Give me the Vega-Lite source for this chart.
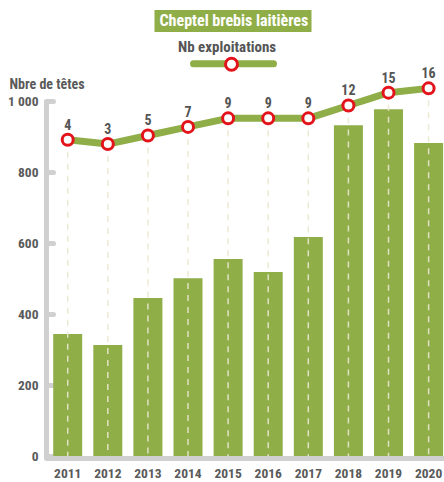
{
  "$schema": "https://vega.github.io/schema/vega-lite/v6.json",
  "width": 398,
  "height": 355,
  "autosize": {"type": "none"},
  "padding": {"left": 46, "top": 101, "right": 0, "bottom": 26},
  "background": "white",
  "config": {
    "view": {"stroke": null},
    "font": "Roboto Condensed, Noto Sans Condensed, DejaVu Sans Condensed, sans-serif"
  },
  "data": {
    "values": [
      {"annee": "2011", "brebis": 344, "exploitations": 4},
      {"annee": "2012", "brebis": 313, "exploitations": 3},
      {"annee": "2013", "brebis": 445, "exploitations": 5},
      {"annee": "2014", "brebis": 501, "exploitations": 7},
      {"annee": "2015", "brebis": 555, "exploitations": 9},
      {"annee": "2016", "brebis": 518, "exploitations": 9},
      {"annee": "2017", "brebis": 617, "exploitations": 9},
      {"annee": "2018", "brebis": 932, "exploitations": 12},
      {"annee": "2019", "brebis": 977, "exploitations": 15},
      {"annee": "2020", "brebis": 882, "exploitations": 16}
    ]
  },
  "encoding": {
    "x": {
      "field": "annee",
      "type": "ordinal",
      "scale": {"paddingInner": 0.277, "paddingOuter": 0.101, "align": 0.89},
      "axis": {
        "title": null,
        "labelAngle": 0,
        "ticks": false,
        "domainColor": "#d0d0d0",
        "domainWidth": 5,
        "domainCap": "round",
        "offset": 2,
        "labelPadding": 8,
        "labelFont": "Roboto Condensed, Noto Sans Condensed, DejaVu Sans Condensed, sans-serif",
        "labelFontSize": 13.5,
        "labelFontWeight": "bold",
        "labelColor": "#5a5a5a"
      }
    }
  },
  "layer": [
    {
      "mark": {"type": "bar"},
      "encoding": {
        "y": {
          "field": "brebis",
          "type": "quantitative",
          "scale": {"domain": [0, 1000], "nice": false},
          "axis": {
            "title": "Nbre de têtes",
            "titleAngle": 0,
            "titleAlign": "left",
            "titleBaseline": "middle",
            "titleX": -37,
            "titleY": -17,
            "titleFont": "Roboto Condensed, Noto Sans Condensed, DejaVu Sans Condensed, sans-serif",
            "titleFontSize": 14,
            "titleFontWeight": "bold",
            "titleColor": "#5a5a5a",
            "values": [0, 200, 400, 600, 800, 1000],
            "labelExpr": "replace(format(datum.value, ',d'), ',', ' ')",
            "grid": false,
            "domainColor": "#d0d0d0",
            "domainWidth": 5,
            "domainCap": "round",
            "tickColor": "#d0d0d0",
            "tickWidth": 5,
            "tickCap": "round",
            "tickSize": -7,
            "labelPadding": 15,
            "labelFont": "Roboto Condensed, Noto Sans Condensed, DejaVu Sans Condensed, sans-serif",
            "labelFontSize": 13.5,
            "labelFontWeight": "bold",
            "labelColor": "#5a5a5a"
          }
        },
        "fill": {
          "datum": "Cheptel brebis laitières",
          "type": "nominal",
          "scale": {"range": ["#8fae48"]},
          "legend": {
            "orient": "none",
            "legendX": 108.5,
            "legendY": -91,
            "zindex": 1,
            "title": null,
            "fillColor": "#8fae48",
            "padding": 3,
            "symbolSize": 0,
            "symbolOpacity": 0,
            "symbolStrokeWidth": 0,
            "labelOffset": -14,
            "labelFont": "Roboto Condensed, Noto Sans Condensed, DejaVu Sans Condensed, sans-serif",
            "labelFontSize": 16,
            "labelFontWeight": "bold",
            "labelColor": "white",
            "labelLimit": 300
          }
        }
      }
    },
    {
      "encoding": {
        "y": {
          "field": "exploitations",
          "type": "quantitative",
          "scale": {"domain": [-69.8, 13.05], "zero": false, "nice": false},
          "axis": null
        }
      },
      "layer": [
        {
          "mark": {"type": "rule", "color": "#ebe8cf", "strokeWidth": 1.5, "strokeDash": [6, 6], "opacity": 0.9},
          "encoding": {"y2": {"value": "height"}}
        },
        {
          "mark": {"type": "line", "strokeWidth": 7, "strokeJoin": "round", "strokeCap": "round"},
          "encoding": {
            "stroke": {
              "datum": "Nb exploitations",
              "type": "nominal",
              "scale": {"range": ["#8fae48"]},
              "legend": {
                "orient": "none",
                "legendX": 132,
                "legendY": -61.3,
                "zindex": 1,
                "title": "Nb exploitations",
                "titleFont": "Roboto Condensed, Noto Sans Condensed, DejaVu Sans Condensed, sans-serif",
                "titleFontSize": 15,
                "titleFontWeight": "bold",
                "titleColor": "#555555",
                "titlePadding": 1.5,
                "symbolType": "M-10,0H10",
                "symbolSize": 64,
                "symbolOffset": 48,
                "symbolStrokeWidth": 7,
                "symbolStrokeColor": "#8fae48",
                "labelExpr": "''",
                "labelOffset": 0,
                "padding": 0,
                "encode": {"symbols": {"update": {"strokeCap": {"value": "round"}, "stroke": {"value": "#8fae48"}, "strokeWidth": {"value": 7}}}}
              }
            }
          }
        },
        {
          "mark": {"type": "point", "filled": true, "fill": "white", "stroke": "#e3131b", "strokeWidth": 3, "size": 121, "opacity": 1},
          "encoding": {
            "shape": {
              "datum": "o",
              "type": "nominal",
              "scale": {"range": ["circle"]},
              "legend": {
                "orient": "none",
                "legendX": 178,
                "legendY": -44.3,
                "zindex": 5,
                "title": null,
                "labelExpr": "''",
                "labelOffset": 0,
                "padding": 0,
                "symbolSize": 144,
                "symbolStrokeWidth": 3,
                "encode": {
                  "symbols": {
                    "enter": {"fill": {"value": "white"}, "stroke": {"value": "#e3131b"}, "strokeWidth": {"value": 3}, "size": {"value": 144}, "shape": {"value": "circle"}},
                    "update": {"fill": {"value": "white"}, "stroke": {"value": "#e3131b"}, "strokeWidth": {"value": 3}, "size": {"value": 144}, "shape": {"value": "circle"}, "opacity": {"value": 1}, "fillOpacity": {"value": 1}, "strokeOpacity": {"value": 1}}
                  }
                }
              }
            }
          }
        },
        {
          "mark": {"type": "text", "dy": -10, "baseline": "alphabetic", "font": "Roboto Condensed, Noto Sans Condensed, DejaVu Sans Condensed, sans-serif", "fontSize": 14, "fontWeight": "bold", "fill": "#555555"},
          "encoding": {"text": {"field": "exploitations", "type": "quantitative"}}
        }
      ]
    }
  ],
  "resolve": {"scale": {"y": "independent"}}
}
